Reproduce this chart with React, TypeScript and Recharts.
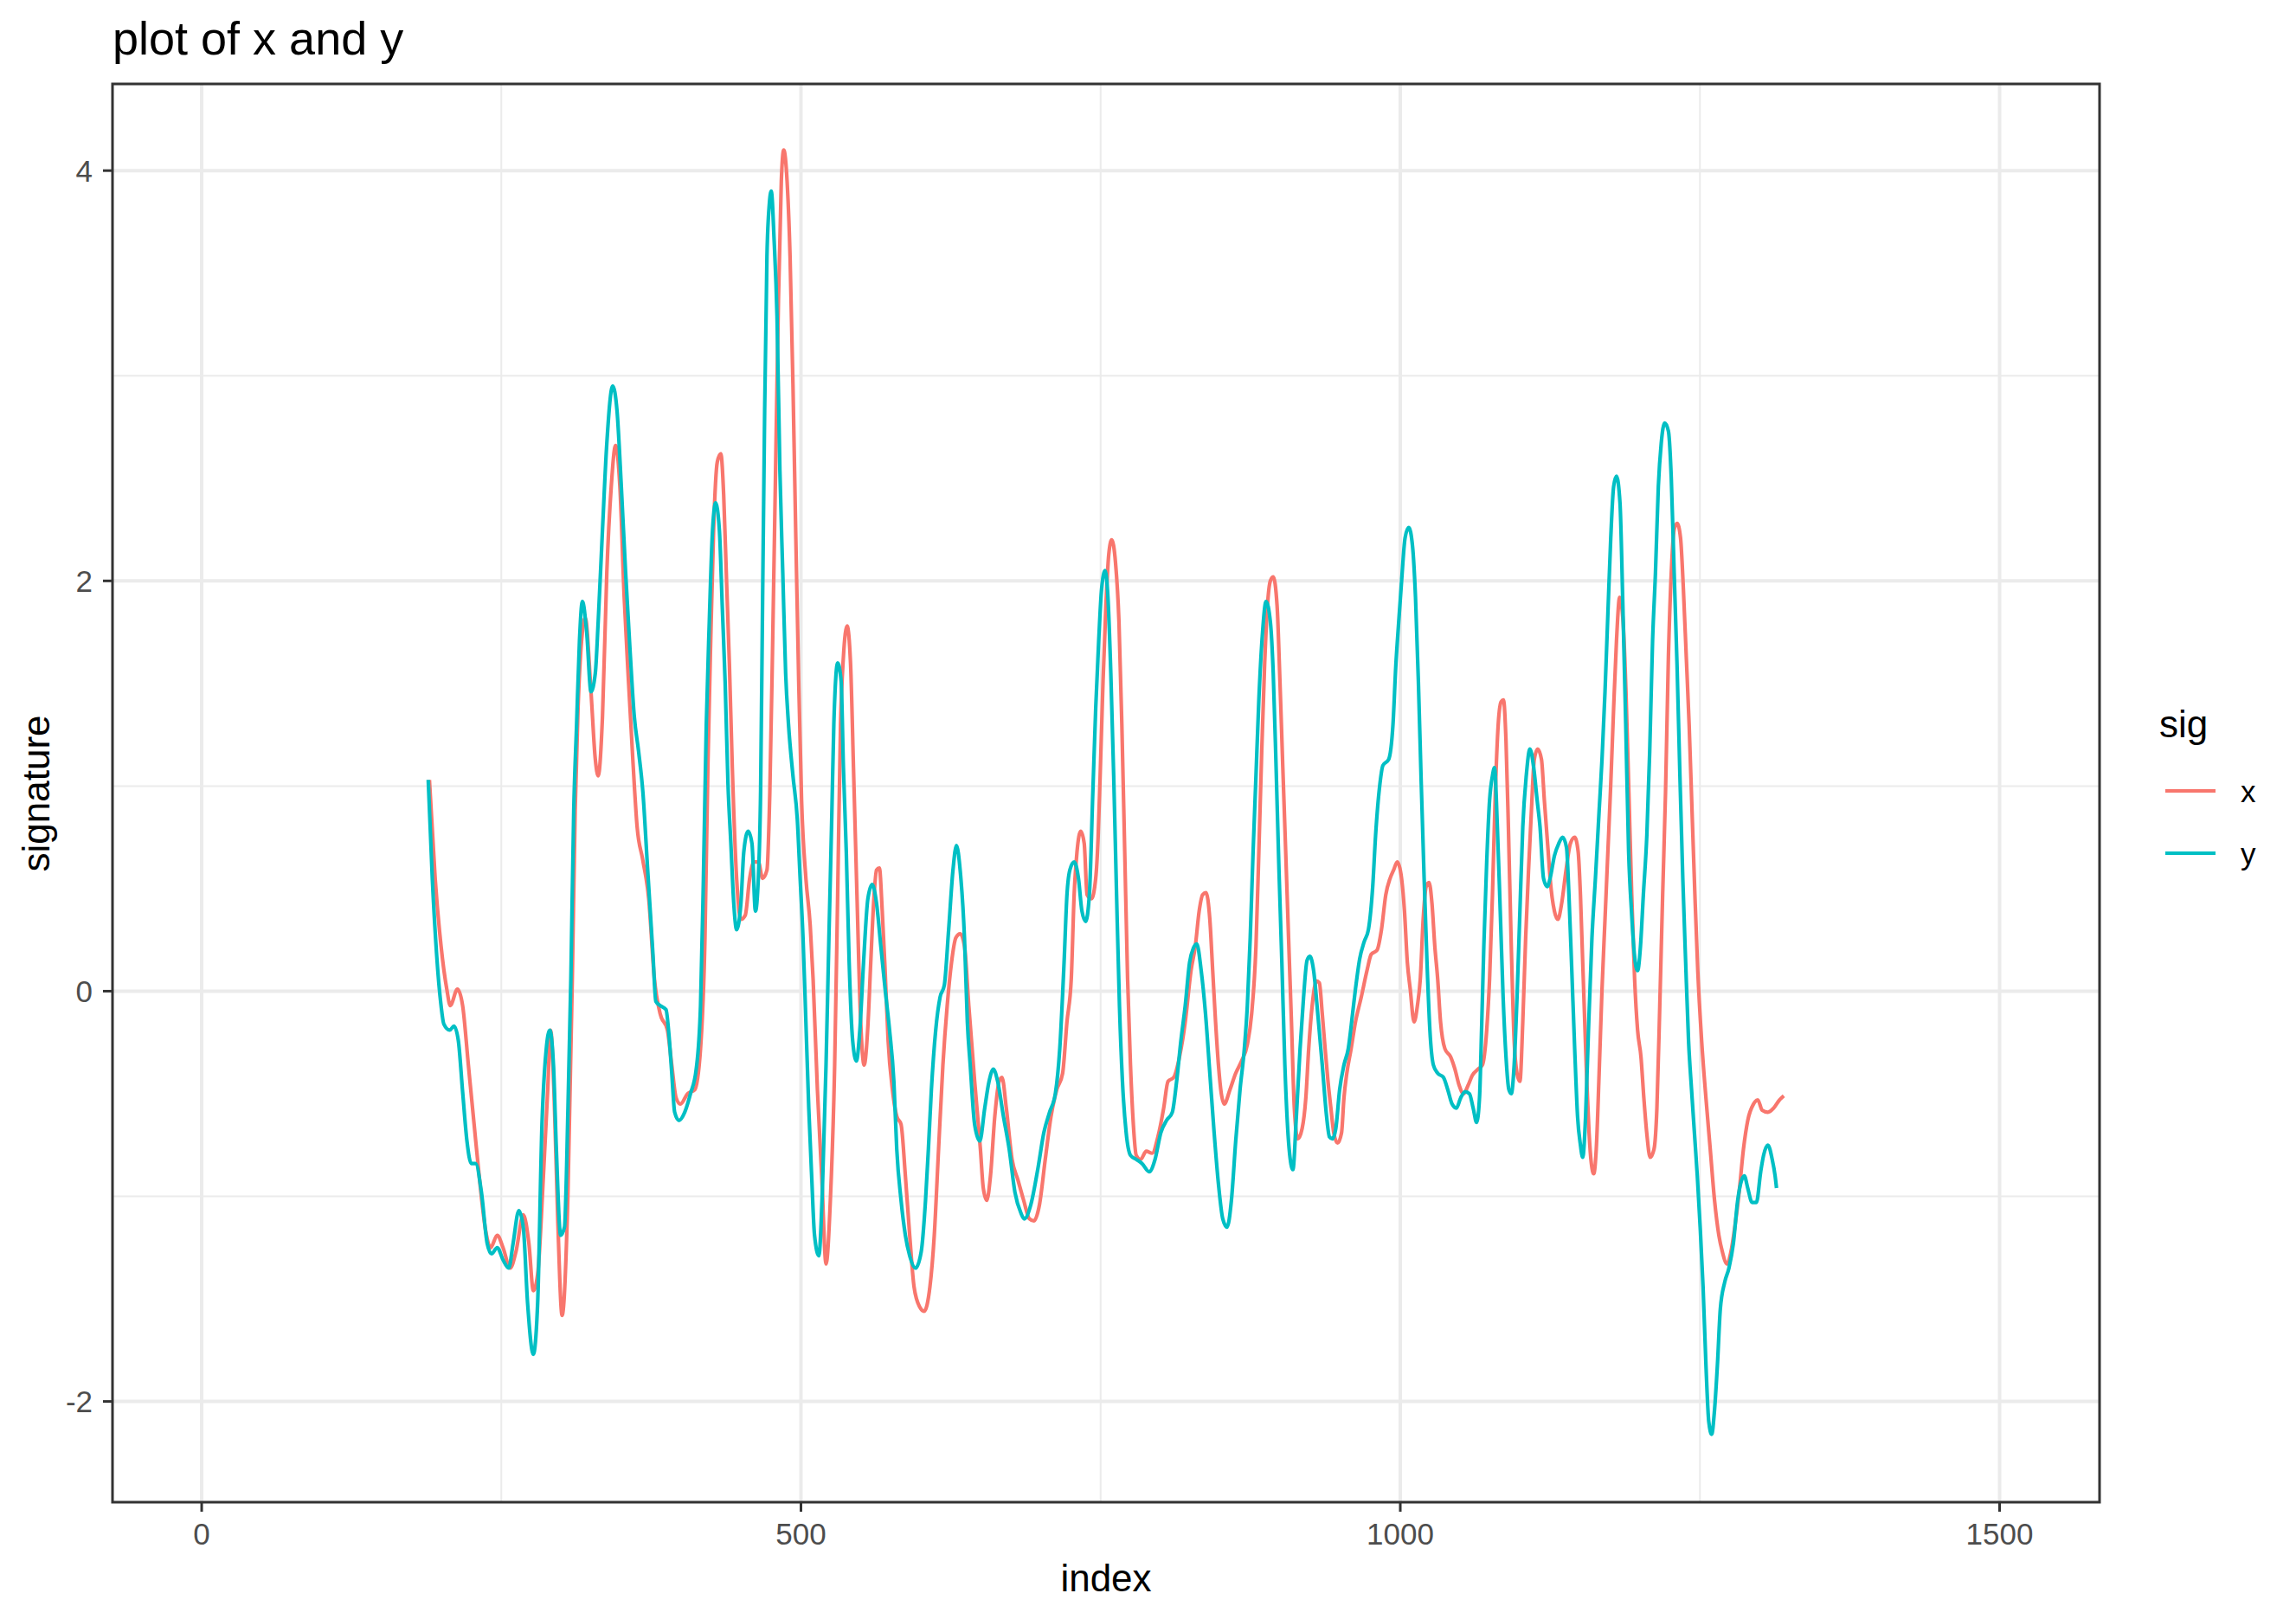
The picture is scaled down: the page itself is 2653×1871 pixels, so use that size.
import React from 'react';
import { LineChart, Line, XAxis, YAxis, CartesianGrid, ReferenceArea } from 'recharts';

// ---- data ----
const xIndex = [190, 194.8, 199.7, 204.5, 207.4, 213.4, 217.7, 222.5, 227.3, 232.2, 237, 241, 246.6, 251.4, 257.4, 262.2, 268.3, 273, 276.7, 280.3, 285.1, 288.7, 291.1, 294, 297, 300.7, 305.6, 309.2, 311.6, 314, 317.6, 320, 324.8, 328.4, 330.8, 334.4, 338, 341.7, 345.3, 348.9, 352.5, 356.1, 359.7, 363.3, 368, 373, 377.7, 382.5, 388.6, 392.2, 395.8, 399.4, 405.4, 411.4, 416.2, 419.9, 422.3, 424.7, 427.1, 430.2, 433.1, 435.5, 437.9, 440.3, 442.7, 446.3, 449.9, 453.5, 457.2, 460.8, 464.4, 468, 471.6, 474, 476.4, 478.8, 481.2, 483.6, 485.6, 488.4, 490.9, 493.3, 495.7, 498.1, 500.5, 504.1, 507.7, 510.1, 513.7, 517.3, 520.9, 524.5, 528.1, 530.6, 533, 535.4, 538.5, 541.4, 543.8, 546.7, 549.8, 552.7, 555.8, 558.2, 560.6, 563, 565.4, 567.8, 570.2, 572.7, 576.3, 579.9, 583.5, 587.1, 590.7, 594.3, 599.1, 602.7, 607.6, 611.2, 614.8, 618.4, 622, 625.6, 629.2, 632.8, 636.4, 640, 644.9, 649.7, 652.1, 655, 658.1, 661.7, 665.3, 667.7, 671.3, 676.1, 681, 685.8, 690.6, 694.2, 699, 703.8, 708.6, 713.4, 718.3, 721.9, 725.5, 727.9, 730.3, 733.4, 736.3, 738.7, 742.3, 745.9, 747.9, 749.6, 752, 754.4, 756.8, 759.2, 762.4, 765.3, 767.7, 770.1, 772.5, 774.9, 777.3, 779.7, 783.3, 788.1, 793, 797.8, 802.6, 806.2, 811, 815.8, 820.6, 825.4, 829, 832.2, 835.1, 837.9, 841.1, 843.5, 845.9, 848.3, 850.7, 853.1, 857.9, 862.7, 867.6, 872.4, 876, 879.6, 882, 884.4, 886.8, 889.2, 891.6, 894, 897.2, 899.6, 902, 904.4, 906.8, 909.2, 911.6, 914.5, 918.1, 921.2, 923.6, 926.5, 930.1, 932.5, 934.9, 937.3, 939.7, 942.1, 944.5, 947.7, 951, 953, 955.4, 959, 962.6, 967.4, 972.2, 975.8, 980.6, 984.3, 987.9, 991.5, 994.4, 997.5, 1000.6, 1003.5, 1005.9, 1008.3, 1011.5, 1014.3, 1016.7, 1019.1, 1021.6, 1024, 1026.4, 1028.8, 1031.2, 1033.6, 1037.2, 1042, 1045.6, 1049.2, 1052.8, 1056.5, 1060.1, 1064.9, 1068.5, 1072.1, 1074.5, 1076.9, 1079.3, 1081.7, 1084.1, 1086.1, 1088.2, 1090.2, 1092.6, 1095, 1097.4, 1099.8, 1102.2, 1104.6, 1107, 1109.4, 1111.8, 1114.7, 1117.8, 1120.2, 1123.4, 1125, 1128.6, 1131.5, 1134.7, 1138.3, 1141.9, 1145.5, 1148.4, 1150.3, 1152.2, 1153.9, 1155.6, 1157.5, 1159.4, 1161.4, 1163.5, 1165.9, 1168.3, 1170.8, 1173.2, 1175.6, 1178, 1180.4, 1183, 1185.9, 1188.3, 1190.7, 1193.1, 1195.5, 1198, 1200.8, 1203.2, 1205.6, 1208.5, 1211.7, 1214.1, 1216.5, 1218.9, 1221.3, 1223.7, 1226.1, 1228.5, 1231, 1233.8, 1236.2, 1238.6, 1241, 1243.4, 1245.8, 1248.2, 1251.4, 1255, 1258.6, 1262.2, 1265.8, 1268.7, 1272.6, 1275.9, 1279.1, 1282.7, 1286.3, 1289.9, 1294.7, 1298.3, 1301.9, 1306.7, 1311.5, 1316.4, 1320];
const xSignal = [1.03, 0.55, 0.22, 0.01, -0.07, 0.01, -0.07, -0.36, -0.65, -0.94, -1.17, -1.25, -1.19, -1.25, -1.35, -1.27, -1.09, -1.23, -1.46, -1.38, -0.9, -0.48, -0.19, -0.5, -1.1, -1.58, -0.98, 0.06, 0.88, 1.38, 1.75, 1.82, 1.46, 1.13, 1.05, 1.34, 2.04, 2.46, 2.66, 2.46, 1.92, 1.51, 1.13, 0.8, 0.64, 0.45, 0.06, -0.11, -0.19, -0.36, -0.52, -0.55, -0.5, -0.48, -0.28, 0.26, 1.09, 1.71, 2.25, 2.58, 2.62, 2.42, 2.0, 1.59, 1.09, 0.55, 0.35, 0.37, 0.55, 0.63, 0.63, 0.55, 0.59, 0.97, 1.71, 2.54, 3.37, 3.95, 4.1, 3.95, 3.58, 2.96, 2.21, 1.51, 0.93, 0.55, 0.32, 0.06, -0.48, -0.9, -1.33, -1.02, -0.36, 0.47, 1.3, 1.63, 1.78, 1.59, 1.09, 0.47, -0.15, -0.36, -0.17, 0.14, 0.43, 0.59, 0.6, 0.39, 0.1, -0.24, -0.48, -0.61, -0.65, -0.9, -1.19, -1.44, -1.54, -1.56, -1.44, -1.19, -0.77, -0.36, -0.07, 0.14, 0.26, 0.28, 0.22, -0.07, -0.44, -0.77, -0.96, -1.02, -0.9, -0.61, -0.44, -0.42, -0.57, -0.82, -0.92, -1.02, -1.11, -1.12, -1.04, -0.82, -0.61, -0.48, -0.4, -0.15, 0.06, 0.47, 0.68, 0.78, 0.72, 0.47, 0.45, 0.55, 0.75, 1.05, 1.51, 1.88, 2.13, 2.2, 2.09, 1.8, 1.3, 0.68, 0.06, -0.36, -0.65, -0.8, -0.82, -0.78, -0.79, -0.71, -0.57, -0.44, -0.42, -0.32, -0.15, 0.1, 0.22, 0.39, 0.47, 0.48, 0.35, 0.1, -0.15, -0.36, -0.5, -0.55, -0.48, -0.4, -0.34, -0.26, -0.11, 0.22, 0.68, 1.17, 1.59, 1.88, 2.0, 2.02, 1.88, 1.51, 1.09, 0.68, 0.26, -0.15, -0.57, -0.72, -0.67, -0.52, -0.28, -0.07, 0.05, 0.04, -0.11, -0.28, -0.44, -0.57, -0.69, -0.74, -0.69, -0.52, -0.4, -0.28, -0.15, -0.03, 0.1, 0.18, 0.2, 0.3, 0.47, 0.55, 0.59, 0.63, 0.57, 0.39, 0.14, 0.01, -0.15, -0.07, 0.06, 0.35, 0.51, 0.53, 0.43, 0.22, 0.06, -0.15, -0.28, -0.32, -0.38, -0.46, -0.5, -0.46, -0.41, -0.38, -0.36, -0.19, 0.06, 0.47, 0.97, 1.3, 1.41, 1.42, 1.22, 0.8, 0.22, -0.24, -0.4, -0.44, -0.15, 0.26, 0.59, 0.88, 1.13, 1.18, 1.13, 0.93, 0.68, 0.55, 0.39, 0.35, 0.43, 0.59, 0.72, 0.75, 0.68, 0.47, 0.14, -0.15, -0.44, -0.69, -0.84, -0.89, -0.77, -0.4, 0.01, 0.35, 0.68, 1.01, 1.38, 1.71, 1.92, 1.8, 1.46, 0.97, 0.47, 0.06, -0.19, -0.32, -0.52, -0.69, -0.81, -0.77, -0.57, -0.07, 0.47, 0.97, 1.63, 2.04, 2.25, 2.28, 2.21, 1.96, 1.63, 1.3, 0.88, 0.47, 0.1, -0.24, -0.52, -0.77, -1.02, -1.19, -1.27, -1.33, -1.27, -1.15, -0.98, -0.77, -0.63, -0.55, -0.53, -0.58, -0.59, -0.57, -0.53, -0.51];

const yIndex = [189, 192.4, 196, 199.7, 202, 206.9, 210.5, 214.1, 217.7, 221.3, 224.9, 228.5, 233.4, 238.2, 241.8, 246.6, 251.4, 256.2, 259.8, 264.6, 268.3, 271.9, 276.7, 280.3, 283.9, 287.5, 290.4, 293.5, 295.9, 299.5, 302.7, 305.6, 308, 310.4, 312.8, 315.2, 317.6, 321.2, 324.8, 328.4, 330.8, 334.4, 338, 342.9, 346.5, 350.1, 353.7, 357.3, 360.9, 364.5, 368.1, 372, 376.5, 378.9, 382.5, 387.4, 389.8, 392.2, 394.6, 398.2, 403, 407.8, 412.6, 416.2, 418.6, 421, 423.5, 425.9, 428.8, 431.9, 434.3, 436.7, 439.1, 441.5, 443.9, 446.3, 449.9, 452.3, 455.9, 459.1, 462, 464.4, 466.3, 468, 469.7, 471.6, 473.5, 475.2, 477.6, 480, 482.4, 484.8, 487.2, 489.6, 493.3, 496.9, 499.3, 501.7, 504.1, 506.5, 508.9, 511.3, 514.9, 517.8, 520.9, 523.3, 525.8, 527.4, 530.6, 533.5, 535.4, 537.8, 540.2, 543.1, 546.2, 549.1, 552.2, 555.8, 559.4, 563, 566.6, 570.2, 573.9, 577.5, 579.9, 583.5, 587.1, 590.7, 595.5, 600.3, 603.9, 606.3, 608.8, 612.4, 616, 619.6, 623.2, 626.8, 629.7, 632.8, 636.4, 638.8, 641.2, 644.9, 649.2, 653.3, 656.9, 660.5, 664.1, 668.9, 673.7, 678.5, 683.4, 686.3, 691.8, 697.8, 702.6, 707.4, 712.2, 715.9, 719.5, 721.9, 724.3, 727.9, 731.5, 734.4, 737.5, 740.6, 743.5, 745.9, 748.4, 750.8, 753.7, 756.1, 758.5, 760.9, 763.3, 765.7, 768.2, 771.3, 774.9, 779.7, 784.5, 790.5, 795.4, 800.2, 805, 809.8, 813.4, 817, 820.6, 824.2, 827.4, 830.2, 833.9, 837.5, 841.1, 844.7, 848.3, 851.9, 855.5, 859.1, 862.7, 866.3, 869.9, 872.4, 874.8, 877.2, 879.6, 882, 885.1, 888, 891.6, 894, 896.4, 898.8, 901.2, 903.7, 907.3, 910.4, 913.3, 916.4, 919.3, 922.2, 924.6, 927.7, 931.3, 934.9, 938.5, 940.9, 943.3, 946.2, 949.4, 953, 956.6, 960.2, 962.6, 966.2, 969.8, 973.4, 977, 979.4, 983, 985.5, 990.3, 993.9, 996.3, 998.7, 1001.1, 1004, 1007.1, 1010.2, 1012.7, 1015.1, 1017.5, 1019.9, 1022.3, 1024.7, 1027.6, 1031.2, 1036, 1039.6, 1043.2, 1046.8, 1050.4, 1054.1, 1057.7, 1060.8, 1063.7, 1066.1, 1068, 1069.7, 1072.1, 1074.5, 1076.9, 1078.6, 1081, 1083.4, 1085.8, 1088.2, 1090.6, 1092.6, 1095, 1097.4, 1099.8, 1102.2, 1105.1, 1108.2, 1111.3, 1114.2, 1116.6, 1119.5, 1122.6, 1125, 1128.6, 1132.2, 1135.4, 1138.7, 1140.7, 1143.1, 1145.5, 1147.9, 1150.3, 1152.2, 1154.6, 1157, 1159.9, 1162.8, 1165.9, 1168.3, 1170.8, 1173.2, 1175.6, 1178, 1180.4, 1183.3, 1185.7, 1188.1, 1190.5, 1192.9, 1195.3, 1198, 1200.4, 1202.8, 1205.7, 1208.1, 1210.5, 1212.9, 1215.3, 1217.7, 1220.6, 1223.7, 1226.1, 1228.5, 1230.9, 1233.3, 1235.7, 1238.1, 1240.5, 1243, 1245.4, 1247.8, 1250.2, 1252.6, 1255, 1257.4, 1259.8, 1262.2, 1264.6, 1267, 1270.6, 1274.2, 1277.9, 1281.5, 1283.9, 1287, 1289.9, 1293.5, 1297.1, 1300.7, 1303.1, 1306.7, 1310.3, 1312.7, 1313.9];
const ySignal = [1.03, 0.55, 0.18, -0.07, -0.16, -0.19, -0.17, -0.24, -0.49, -0.73, -0.84, -0.84, -0.98, -1.23, -1.28, -1.25, -1.31, -1.35, -1.23, -1.07, -1.15, -1.52, -1.77, -1.52, -0.65, -0.28, -0.19, -0.36, -0.77, -1.19, -1.15, -0.57, 0.06, 0.88, 1.3, 1.71, 1.9, 1.75, 1.46, 1.55, 1.8, 2.25, 2.67, 2.95, 2.83, 2.46, 2.04, 1.67, 1.34, 1.17, 0.97, 0.6, 0.18, -0.05, -0.07, -0.09, -0.21, -0.4, -0.59, -0.63, -0.59, -0.5, -0.38, -0.07, 0.55, 1.3, 1.8, 2.21, 2.38, 2.25, 1.88, 1.51, 1.01, 0.72, 0.43, 0.3, 0.43, 0.68, 0.78, 0.72, 0.39, 0.55, 0.97, 1.92, 2.83, 3.58, 3.83, 3.9, 3.66, 3.29, 2.54, 2.04, 1.55, 1.3, 1.05, 0.84, 0.55, 0.26, -0.15, -0.57, -0.9, -1.19, -1.29, -0.98, -0.36, 0.26, 0.88, 1.3, 1.6, 1.51, 1.09, 0.68, 0.14, -0.24, -0.34, -0.19, 0.14, 0.45, 0.52, 0.43, 0.22, 0.01, -0.19, -0.44, -0.77, -1.02, -1.19, -1.29, -1.35, -1.27, -1.02, -0.77, -0.48, -0.19, -0.03, 0.03, 0.3, 0.59, 0.71, 0.59, 0.26, -0.15, -0.36, -0.65, -0.73, -0.57, -0.44, -0.38, -0.44, -0.61, -0.77, -0.98, -1.08, -1.11, -1.04, -0.86, -0.69, -0.59, -0.5, -0.28, 0.14, 0.47, 0.59, 0.63, 0.55, 0.39, 0.34, 0.47, 0.97, 1.38, 1.71, 1.96, 2.05, 1.92, 1.55, 1.05, 0.47, -0.07, -0.44, -0.69, -0.8, -0.82, -0.84, -0.88, -0.82, -0.69, -0.63, -0.59, -0.44, -0.24, -0.07, 0.14, 0.21, 0.23, 0.1, -0.11, -0.4, -0.69, -0.94, -1.11, -1.15, -1.02, -0.73, -0.48, -0.28, -0.07, 0.26, 0.68, 1.05, 1.42, 1.75, 1.9, 1.8, 1.55, 1.09, 0.59, 0.14, -0.36, -0.77, -0.87, -0.61, -0.28, -0.03, 0.15, 0.17, 0.1, -0.12, -0.36, -0.61, -0.71, -0.72, -0.67, -0.48, -0.36, -0.28, -0.11, 0.01, 0.16, 0.24, 0.3, 0.51, 0.76, 1.01, 1.1, 1.13, 1.3, 1.59, 1.8, 2.0, 2.21, 2.26, 2.17, 1.92, 1.51, 1.01, 0.55, 0.14, -0.19, -0.36, -0.4, -0.42, -0.48, -0.55, -0.57, -0.52, -0.49, -0.5, -0.57, -0.64, -0.52, -0.15, 0.22, 0.63, 0.93, 1.05, 1.09, 0.8, 0.39, -0.03, -0.32, -0.48, -0.5, -0.36, -0.03, 0.39, 0.8, 1.05, 1.18, 1.09, 0.93, 0.8, 0.55, 0.51, 0.55, 0.66, 0.72, 0.75, 0.7, 0.47, 0.1, -0.28, -0.61, -0.75, -0.81, -0.61, -0.19, 0.26, 0.55, 0.88, 1.13, 1.46, 1.84, 2.21, 2.46, 2.51, 2.38, 1.88, 1.3, 0.68, 0.39, 0.18, 0.1, 0.22, 0.47, 0.76, 1.17, 1.71, 2.04, 2.46, 2.67, 2.77, 2.73, 2.5, 2.04, 1.59, 1.05, 0.55, 0.14, -0.24, -0.48, -0.69, -0.9, -1.15, -1.44, -1.82, -2.1, -2.16, -2.04, -1.82, -1.55, -1.42, -1.35, -1.23, -1.02, -0.94, -0.9, -0.96, -1.03, -1.03, -0.88, -0.8, -0.75, -0.82, -0.9, -0.96];

const xTicks = [0, 500, 1000, 1500];
const xMinor = [250, 750, 1250];
const yTicks = [-2, 0, 2, 4];
const yMinor = [-1, 1, 3];
const seriesNames = ['x', 'y'];
const seriesColors = ['#F8766D', '#00BFC4'];

const X_DOMAIN: [number, number] = [-74.4, 1583.4];
const Y_DOMAIN: [number, number] = [-2.491, 4.4225];

const xData = xIndex.map((i, k) => ({ i, v: xSignal[k] }));
const yData = yIndex.map((i, k) => ({ i, v: ySignal[k] }));

const FONT = "'Liberation Sans', Arial, Helvetica, sans-serif";

export default function App() {
  const W = 2653;
  const H = 1871;
  return (
    <div style={{ position: 'absolute', left: 0, top: 0, width: W, height: H, background: '#ffffff' }}>
      <LineChart width={W} height={H} margin={{ top: 97, right: 227, bottom: 75, left: 30 }}>
        <CartesianGrid stroke="#EBEBEB" strokeWidth={2} horizontalValues={yMinor} verticalValues={xMinor} />
        <CartesianGrid stroke="#EBEBEB" strokeWidth={4} horizontalValues={yTicks} verticalValues={xTicks} />
        <XAxis
          dataKey="i"
          type="number"
          domain={X_DOMAIN}
          allowDataOverflow
          ticks={xTicks}
          interval={0}
          height={60}
          axisLine={false}
          tickSize={11}
          tickMargin={13}
          tickLine={{ stroke: '#333333', strokeWidth: 3 }}
          tick={{ fill: '#4D4D4D', fontSize: 35, fontFamily: FONT }}
        />
        <YAxis
          type="number"
          domain={Y_DOMAIN}
          allowDataOverflow
          ticks={yTicks}
          interval={0}
          width={100}
          axisLine={false}
          tickSize={11}
          tickMargin={12}
          tickLine={{ stroke: '#333333', strokeWidth: 3 }}
          tick={{ fill: '#4D4D4D', fontSize: 35, fontFamily: FONT }}
        />
        <Line
          data={xData}
          dataKey="v"
          name={seriesNames[0]}
          type="monotone"
          stroke={seriesColors[0]}
          strokeWidth={4.2}
          dot={false}
          activeDot={false}
          isAnimationActive={false}
        />
        <Line
          data={yData}
          dataKey="v"
          name={seriesNames[1]}
          type="monotone"
          stroke={seriesColors[1]}
          strokeWidth={4.2}
          dot={false}
          activeDot={false}
          isAnimationActive={false}
        />
        <ReferenceArea
          x1={X_DOMAIN[0]}
          x2={X_DOMAIN[1]}
          y1={Y_DOMAIN[0]}
          y2={Y_DOMAIN[1]}
          fill="none"
          fillOpacity={0}
          stroke="#333333"
          strokeWidth={3}
          ifOverflow="visible"
        />
      </LineChart>
      <svg
        width={W}
        height={H}
        style={{ position: 'absolute', left: 0, top: 0, pointerEvents: 'none' }}
      >
        <text x={130} y={63} fontSize={54} fontFamily={FONT} fill="#000000">plot of x and y</text>
        <text x={1278} y={1839} fontSize={44} fontFamily={FONT} fill="#000000" textAnchor="middle">index</text>
        <text
          x={57}
          y={917}
          fontSize={44}
          fontFamily={FONT}
          fill="#000000"
          textAnchor="middle"
          transform="rotate(-90, 57, 917)"
        >
          signature
        </text>
        <text x={2495} y={852} fontSize={44} fontFamily={FONT} fill="#000000">sig</text>
        {seriesNames.map((n, k) => (
          <g key={n}>
            <line x1={2502} x2={2560} y1={914 + k * 72} y2={914 + k * 72} stroke={seriesColors[k]} strokeWidth={4} />
            <text x={2589} y={927 + k * 72} fontSize={35} fontFamily={FONT} fill="#000000">{n}</text>
          </g>
        ))}
      </svg>
    </div>
  );
}
